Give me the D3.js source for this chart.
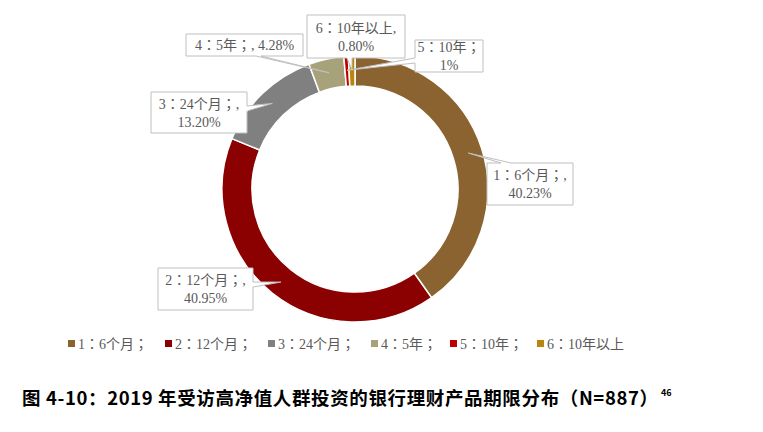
<!DOCTYPE html>
<html>
<head>
<meta charset="utf-8">
<script src="https://cdn.jsdelivr.net/npm/d3@7"></script>
<style>
  body { margin: 0; background: #fff; }
  svg { display: block; }
</style>
</head>
<body>
<svg></svg>
<script>
var width = 763;
var height = 432;

// data
var categories = ['1：6个月；', '2：12个月；', '3：24个月；', '4：5年；', '5：10年；', '6：10年以上'];
var values = [40.23, 40.95, 13.20, 4.28, 0.54, 0.80];
var labelLines = [
  ['1：6个月；,', '40.23%'],
  ['2：12个月；,', '40.95%'],
  ['3：24个月；,', '13.20%'],
  ['4：5年；, 4.28%'],
  ['5：10年；', '1%'],
  ['6：10年以上,', '0.80%']
];
var colors = ['#8b6331', '#8b0000', '#808080', '#a7a27a', '#c00000', '#b8860b'];

// callout boxes: [x, y, w, h, side of pointer, offset along side]
var callouts = [
  [487, 163, 86, 42, 'top', 14],
  [158, 268, 95, 42, 'right', 14],
  [151, 92, 96, 41, 'right', 14],
  [186, 34, 117, 22, 'bottom', 70],
  [415, 40, 68, 32, 'left', 18],
  [307, 15, 98, 43, 'bottom', 40]
];

var cx = 355, cy = 189;
var outerR = 133, innerR = 103;
var font = '"Liberation Serif", "Noto Sans CJK TC", serif';

var svg = d3.select('svg')
  .attr('width', width)
  .attr('height', height);

var pie = d3.pie().sort(null).value(d => d);
var arcs = pie(values);

var arc = d3.arc()
  .innerRadius(innerR)
  .outerRadius(outerR);

var tipArc = d3.arc()
  .innerRadius(outerR - 14)
  .outerRadius(outerR - 14);

var g = svg.append('g')
  .attr('transform', `translate(${cx}, ${cy})`);

g.selectAll('path')
  .data(arcs)
  .enter()
  .append('path')
    .attr('d', arc)
    .attr('fill', (d, i) => colors[i])
    .attr('stroke', '#fff')
    .attr('stroke-width', 1.5);

// callout shape with a pointer wedge
function calloutPath(c, tip) {
  var x = c[0], y = c[1], w = c[2], h = c[3], side = c[4], o = c[5];
  var b = 5;
  var p = [];
  if (side === 'top') {
    p = [[x, y], [x + o, y], tip, [x + o + b * 2, y], [x + w, y], [x + w, y + h], [x, y + h]];
  } else if (side === 'right') {
    p = [[x, y], [x + w, y], [x + w, y + o], tip, [x + w, y + o + b], [x + w, y + h], [x, y + h]];
  } else if (side === 'bottom') {
    p = [[x, y], [x + w, y], [x + w, y + h], [x + o + b, y + h], tip, [x + o, y + h], [x, y + h]];
  } else {
    p = [[x, y], [x + w, y], [x + w, y + h], [x, y + h], [x, y + o + b], tip, [x, y + o]];
  }
  return 'M' + p.map(q => q.join(',')).join('L') + 'Z';
}

var labels = svg.append('g');

arcs.forEach(function(d, i) {
  var c = callouts[i];
  var t = tipArc.centroid(d);
  var tip = [cx + t[0], cy + t[1]];
  labels.append('path')
    .attr('d', calloutPath(c, tip))
    .attr('fill', '#fff')
    .attr('stroke', '#bfbfbf')
    .attr('stroke-width', 1);

  var lines = labelLines[i];
  var lh = 18;
  var y0 = c[1] + c[3] / 2 - (lines.length - 1) * lh / 2 + 5;
  lines.forEach(function(s, k) {
    labels.append('text')
      .attr('x', c[0] + c[2] / 2)
      .attr('y', y0 + k * lh)
      .attr('text-anchor', 'middle')
      .attr('font-family', font)
      .attr('font-size', 14)
      .attr('fill', '#595959')
      .text(s);
  });
});

// legend
var legendX = [68, 165, 268, 371, 450, 537];
var legend = svg.append('g')
  .attr('transform', 'translate(0, 344)');

categories.forEach(function(name, i) {
  legend.append('rect')
    .attr('x', legendX[i])
    .attr('y', -4)
    .attr('width', 7)
    .attr('height', 7)
    .attr('fill', colors[i]);
  legend.append('text')
    .attr('x', legendX[i] + 10)
    .attr('y', 5)
    .attr('font-family', font)
    .attr('font-size', 14)
    .attr('fill', '#595959')
    .text(name);
});

//title
svg.append('text')
  .attr('x', 22)
  .attr('y', 405)
  .attr('font-family', '"Noto Sans CJK SC", sans-serif')
  .attr('font-weight', 'bold')
  .attr('font-size', 18.5)
  .attr('textLength', 636)
  .attr('lengthAdjust', 'spacing')
  .attr('fill', '#000')
  .text('图 4-10：2019 年受访高净值人群投资的银行理财产品期限分布（N=887）');

svg.append('text')
  .attr('x', 661)
  .attr('y', 396)
  .attr('font-family', '"Noto Sans CJK SC", sans-serif')
  .attr('font-weight', 'bold')
  .attr('font-size', 9)
  .attr('fill', '#000')
  .text('46');
</script>
</body>
</html>
